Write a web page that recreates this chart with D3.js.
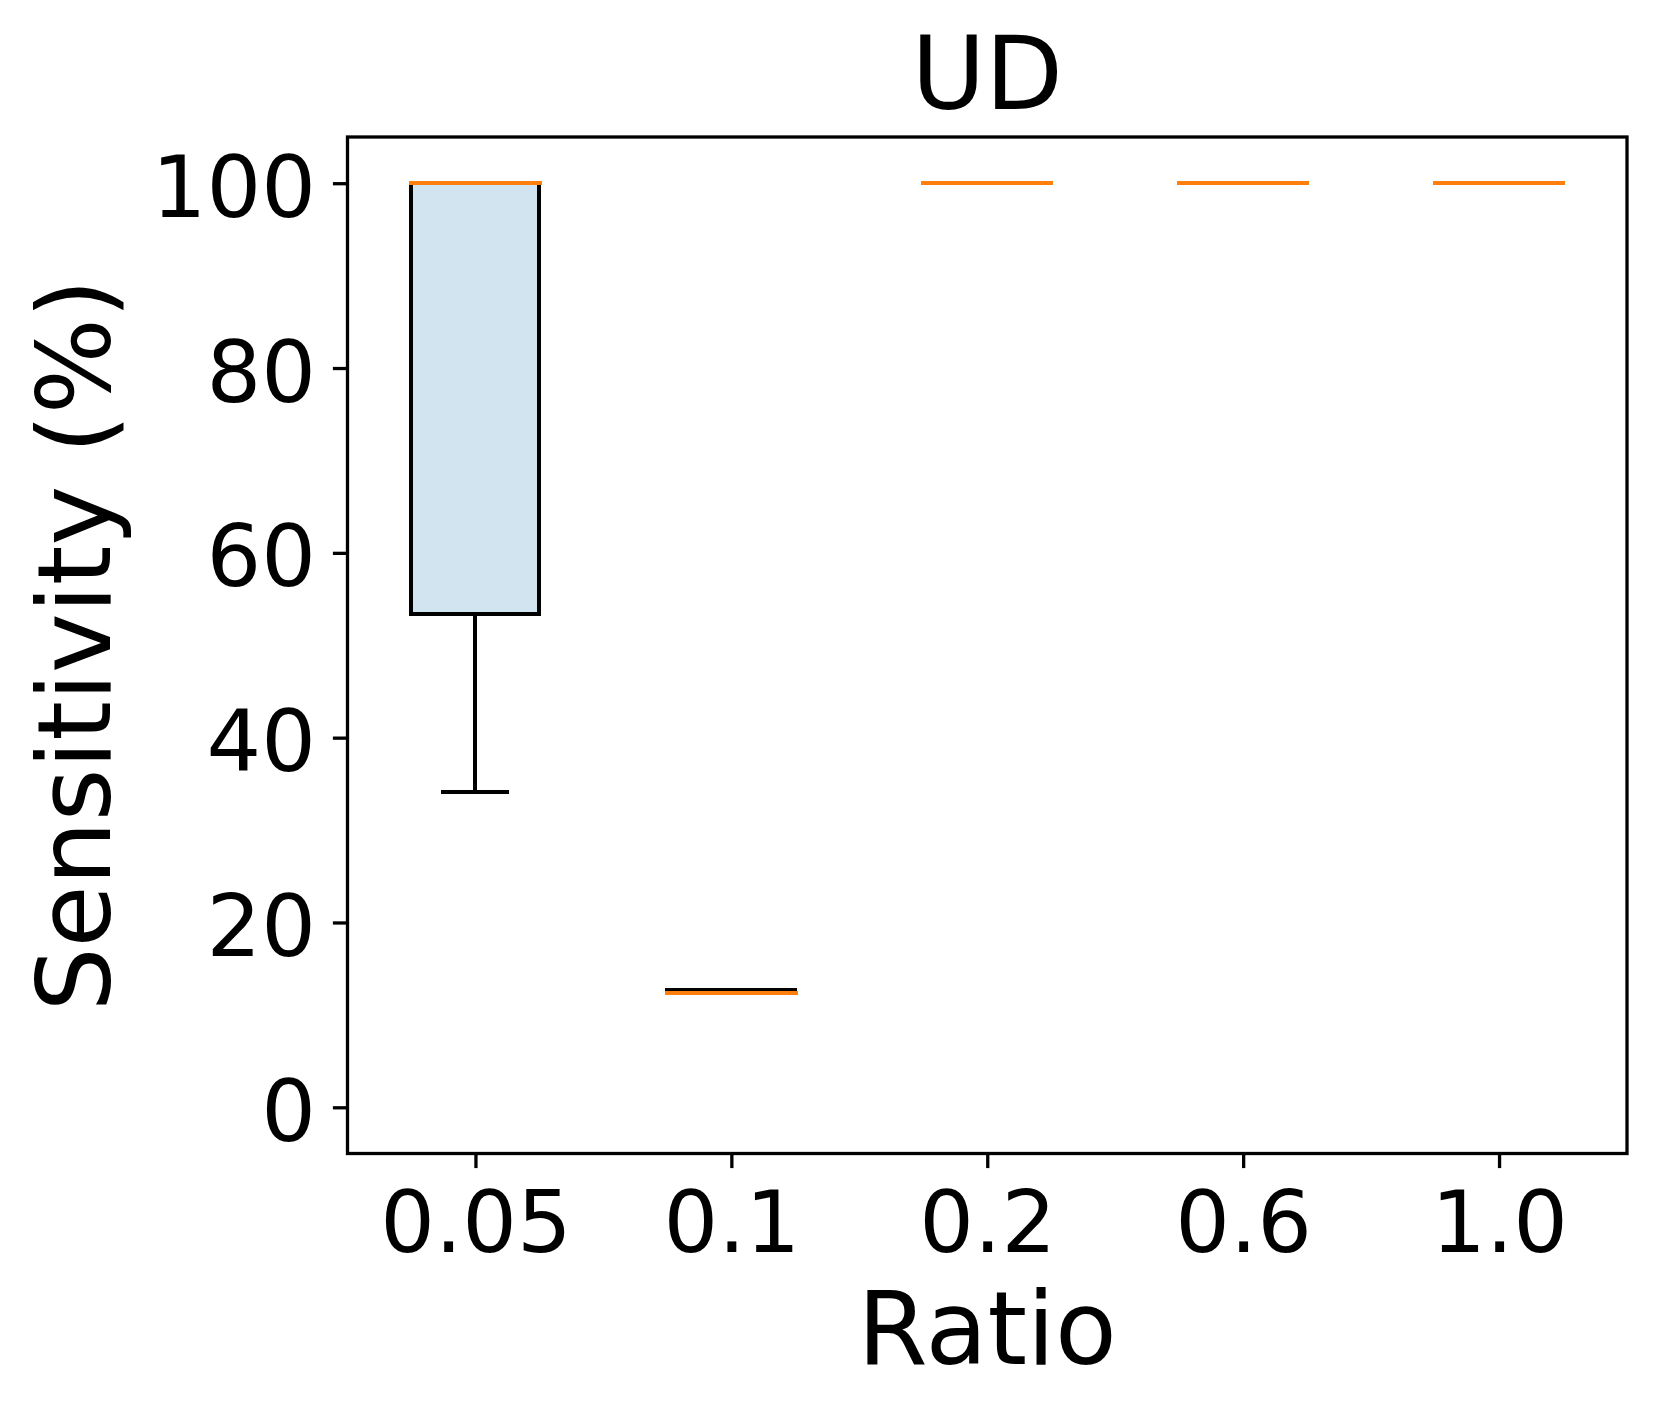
<!DOCTYPE html>
<html>
<head>
<meta charset="utf-8">
<script src="https://cdn.jsdelivr.net/npm/d3@7"></script>
<style>
  body { margin: 0; background: #fff; }
  svg text { font-family: 'DejaVu Sans', sans-serif; fill: #000; }
</style>
</head>
<body>
<div id="chart"></div>
<script>
const ratios = ['0.05', '0.1', '0.2', '0.6', '1.0']
const whiskerLow = [34.1, 12.35, 100, 100, 100]
const quart1 = [53.4, 12.35, 100, 100, 100]
const medians = [100, 12.35, 100, 100, 100]
const quart3 = [100, 12.7, 100, 100, 100]
const whiskerHigh = [100, 12.7, 100, 100, 100]
const yTicks = [0, 20, 40, 60, 80, 100]

const width = 1661
const height = 1420
const margin = { top: 137, right: 34, bottom: 266.5, left: 347.5 }

const boxes = ratios.map((r, i) => ({
  ratio: r,
  lo: whiskerLow[i],
  q1: quart1[i],
  med: medians[i],
  q3: quart3[i],
  hi: whiskerHigh[i]
}))

const svg = d3.select('#chart')
  .append('svg')
  .attr('width', width)
  .attr('height', height)

const x = d3.scalePoint()
  .domain(ratios)
  .range([margin.left, width - margin.right])
  .padding(0.5)

const y = d3.scaleLinear()
  .domain([-5, 105])
  .range([height - margin.bottom, margin.top])

const boxW = x.step() * 0.5
const capW = boxW * 0.5

// axes
const yAxis = d3.axisLeft(y)
  .tickValues(yTicks)
  .tickSize(14.6)
  .tickPadding(17)
  .tickFormat(d3.format('d'))

const xAxis = d3.axisBottom(x)
  .tickSize(14.6)
  .tickPadding(23)

const gy = svg.append('g')
  .attr('transform', `translate(${margin.left},0)`)
  .call(yAxis)
gy.select('.domain').remove()
gy.selectAll('line').attr('stroke', '#000').attr('stroke-width', 3.3)
gy.selectAll('text').attr('font-size', 86).attr('dy', '0.385em')

const gx = svg.append('g')
  .attr('transform', `translate(0,${height - margin.bottom})`)
  .call(xAxis)
gx.select('.domain').remove()
gx.selectAll('line').attr('stroke', '#000').attr('stroke-width', 3.3)
gx.selectAll('text').attr('font-size', 86)

// boxes (crisp edges so stacked lines at the same value don't bleed)
const g = svg.append('g')
  .attr('shape-rendering', 'crispEdges')

const box = g.selectAll('.box')
  .data(boxes)
  .join('g')
  .attr('class', 'box')

box.append('line')
  .attr('x1', d => x(d.ratio)).attr('x2', d => x(d.ratio))
  .attr('y1', d => y(d.q1)).attr('y2', d => y(d.lo))
  .attr('stroke', '#000').attr('stroke-width', 4)

box.append('line')
  .attr('x1', d => x(d.ratio)).attr('x2', d => x(d.ratio))
  .attr('y1', d => y(d.q3)).attr('y2', d => y(d.hi))
  .attr('stroke', '#000').attr('stroke-width', 4)

box.append('line')
  .attr('x1', d => x(d.ratio) - capW / 2).attr('x2', d => x(d.ratio) + capW / 2)
  .attr('y1', d => y(d.lo)).attr('y2', d => y(d.lo))
  .attr('stroke', '#000').attr('stroke-width', 4).attr('stroke-linecap', 'square')

box.append('line')
  .attr('x1', d => x(d.ratio) - capW / 2).attr('x2', d => x(d.ratio) + capW / 2)
  .attr('y1', d => y(d.hi)).attr('y2', d => y(d.hi))
  .attr('stroke', '#000').attr('stroke-width', 4).attr('stroke-linecap', 'square')

box.append('rect')
  .attr('x', d => x(d.ratio) - boxW / 2)
  .attr('width', boxW)
  .attr('y', d => y(d.q3))
  .attr('height', d => y(d.q1) - y(d.q3))
  .attr('fill', '#d2e4f0')
  .attr('stroke', '#000')
  .attr('stroke-width', 4)

box.append('line')
  .attr('x1', d => x(d.ratio) - boxW / 2).attr('x2', d => x(d.ratio) + boxW / 2)
  .attr('y1', d => y(d.med)).attr('y2', d => y(d.med))
  .attr('stroke', '#ff7f0e').attr('stroke-width', 4.5).attr('stroke-linecap', 'square')

// frame
svg.append('rect')
  .attr('x', margin.left)
  .attr('y', margin.top)
  .attr('width', width - margin.right - margin.left)
  .attr('height', height - margin.bottom - margin.top)
  .attr('fill', 'none')
  .attr('stroke', '#000')
  .attr('stroke-width', 3.3)

// labels
const cx = (margin.left + width - margin.right) / 2

svg.append('text')
  .attr('x', cx)
  .attr('y', 109)
  .attr('text-anchor', 'middle')
  .attr('font-size', 101)
  .text('UD')

svg.append('text')
  .attr('x', cx)
  .attr('y', 1364)
  .attr('text-anchor', 'middle')
  .attr('font-size', 101)
  .text('Ratio')

svg.append('text')
  .attr('transform', `translate(110,${(margin.top + height - margin.bottom) / 2}) rotate(-90)`)
  .attr('text-anchor', 'middle')
  .attr('font-size', 101)
  .text('Sensitivity (%)')
</script>
</body>
</html>
